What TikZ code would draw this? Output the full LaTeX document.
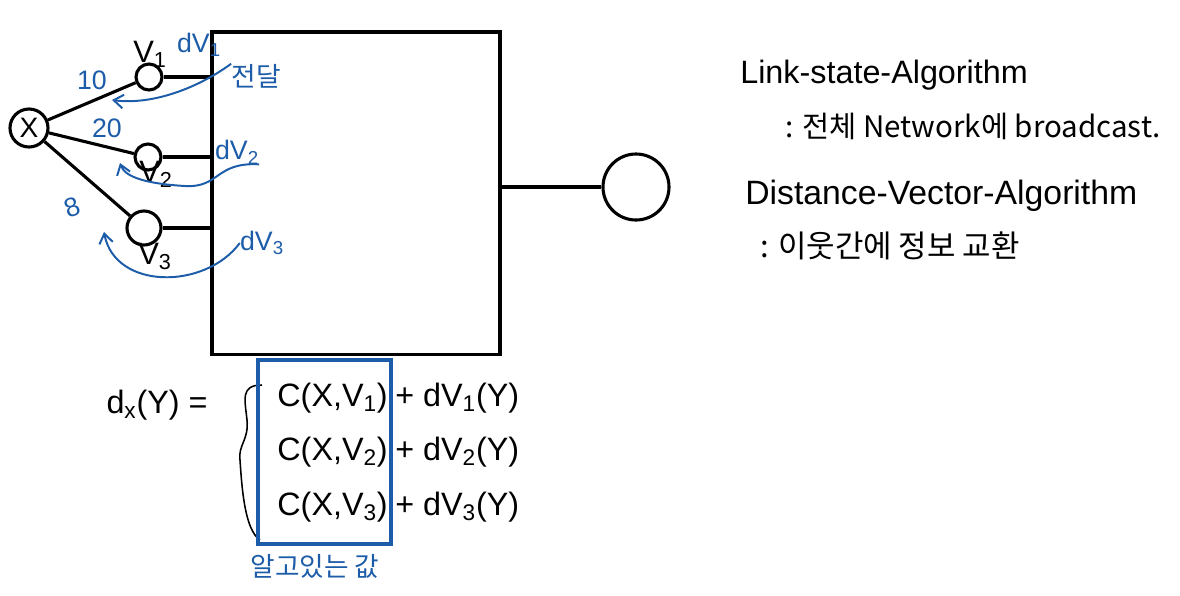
\documentclass[tikz,border=0pt]{standalone}
\usepackage{fontspec}
\setmainfont{Liberation Sans}
\newfontfamily\krfont{Noto Sans CJK KR}
\usepackage{tikz}
\usetikzlibrary{arrows.meta}
\definecolor{penblue}{RGB}{28,92,168}

\begin{document}
\begin{tikzpicture}[x=0.025cm,y=-0.025cm,
  pen/.style={line width=2.2pt},
  router/.style={circle,draw,pen,inner sep=0pt,font=\fontsize{20}{22}\selectfont},
  note/.style={color=penblue,inner sep=0pt,font=\fontsize{19}{22}\selectfont},
  hand/.style={inner sep=0pt,font=\fontsize{22}{25}\selectfont},
  eq/.style={inner sep=0pt,font=\fontsize{23}{27}\selectfont},
  feedback/.style={penblue,line width=1.4pt,-{Straight Barb[length=2.4mm,width=3.4mm]}}
]
\useasboundingbox (0,0) rectangle (1180,595);

\node[router,minimum size=0.95cm] (X) at (29,128) {X};
\node[router,minimum size=0.65cm] (V1) at (149,77) {};
\node[router,minimum size=0.65cm] (V2) at (148,157) {};
\node[router,minimum size=0.85cm] (V3) at (144,228) {};
\node[hand] (V1lbl) at (150,54) {V\textsubscript{1}};
\node[hand] (V2lbl) at (156,174) {V\textsubscript{2}};
\node[hand] (V3lbl) at (155,256) {V\textsubscript{3}};

\node[draw,pen,minimum width=7.2cm,minimum height=8.05cm] (net) at (356,193) {};
\node[router,minimum size=1.65cm] (Y) at (636,187) {};

\draw[pen] (X) -- (V1);
\draw[pen] (X) -- (V2);
\draw[pen] (X) -- (V3);
\draw[pen] (V1) -- (V1 -| net.west);
\draw[pen] (V2) -- (V2 -| net.west);
\draw[pen] (V3) -- (V3 -| net.west);
\draw[pen] (net.east |- Y) -- (Y);

\node[note] (w1) at (92,80) {10};
\node[note] (w2) at (107,128) {20};
\node[note,rotate=20] (w3) at (72,207) {8};

\node[note] (dv1) at (199,45) {dV\textsubscript{1}};
\node[note] (send) at (256,76) {\krfont 전달};
\node[note] (dv2) at (237,152) {dV\textsubscript{2}};
\node[note] (dv3) at (262,243) {dV\textsubscript{3}};
\coordinate (in1) at (112,100);
\coordinate (in2) at (120,163);
\coordinate (in3) at (104,232);
\draw[feedback] (send.north west) .. controls (195,90) and (150,105) .. (in1);
\draw[feedback] (dv2.south east) .. controls (215,162) and (220,188) .. (185,186) .. controls (150,184) and (125,178) .. (in2);
\draw[feedback] (dv3.west) .. controls (205,290) and (115,290) .. (in3);

\node[eq] (dx) at (157,405) {d\textsubscript{x}(Y) =};
\draw[line width=1.1pt] (262,385) .. controls (240,385) and (245,400) .. (247,420)
  .. controls (249,440) and (238,445) .. (240,460)
  .. controls (242,490) and (245,530) .. (260,540);
\node[draw=penblue,line width=2.2pt,minimum width=3.325cm,minimum height=4.6cm] (known) at (324.5,452) {};

\node[eq,anchor=east] (c1) at (388,398) {C(X,V\textsubscript{1})};
\node[eq,anchor=west] (d1) at (395,398) {+ dV\textsubscript{1}(Y)};
\node[eq,anchor=east] (c2) at (388,452) {C(X,V\textsubscript{2})};
\node[eq,anchor=west] (d2) at (395,452) {+ dV\textsubscript{2}(Y)};
\node[eq,anchor=east] (c3) at (388,507) {C(X,V\textsubscript{3})};
\node[eq,anchor=west] (d3) at (395,507) {+ dV\textsubscript{3}(Y)};
\node[note,font=\fontsize{19}{22}\selectfont] (knownlbl) at (315,566) {\krfont 알고있는 값};

\node[hand,anchor=west,font=\fontsize{23}{26}\selectfont] (ls) at (740,75) {Link-state-Algorithm};
\node[hand,anchor=west,font=\krfont\fontsize{21}{24}\selectfont] (lsnote) at (785,126) {: 전체 Network에 broadcast.};
\node[hand,anchor=west,font=\fontsize{24}{27}\selectfont] (dvec) at (745,196) {Distance-Vector-Algorithm};
\node[hand,anchor=west,font=\krfont\fontsize{22}{25}\selectfont] (dvnote) at (760,246) {: 이웃간에 정보 교환};
\end{tikzpicture}
\end{document}
